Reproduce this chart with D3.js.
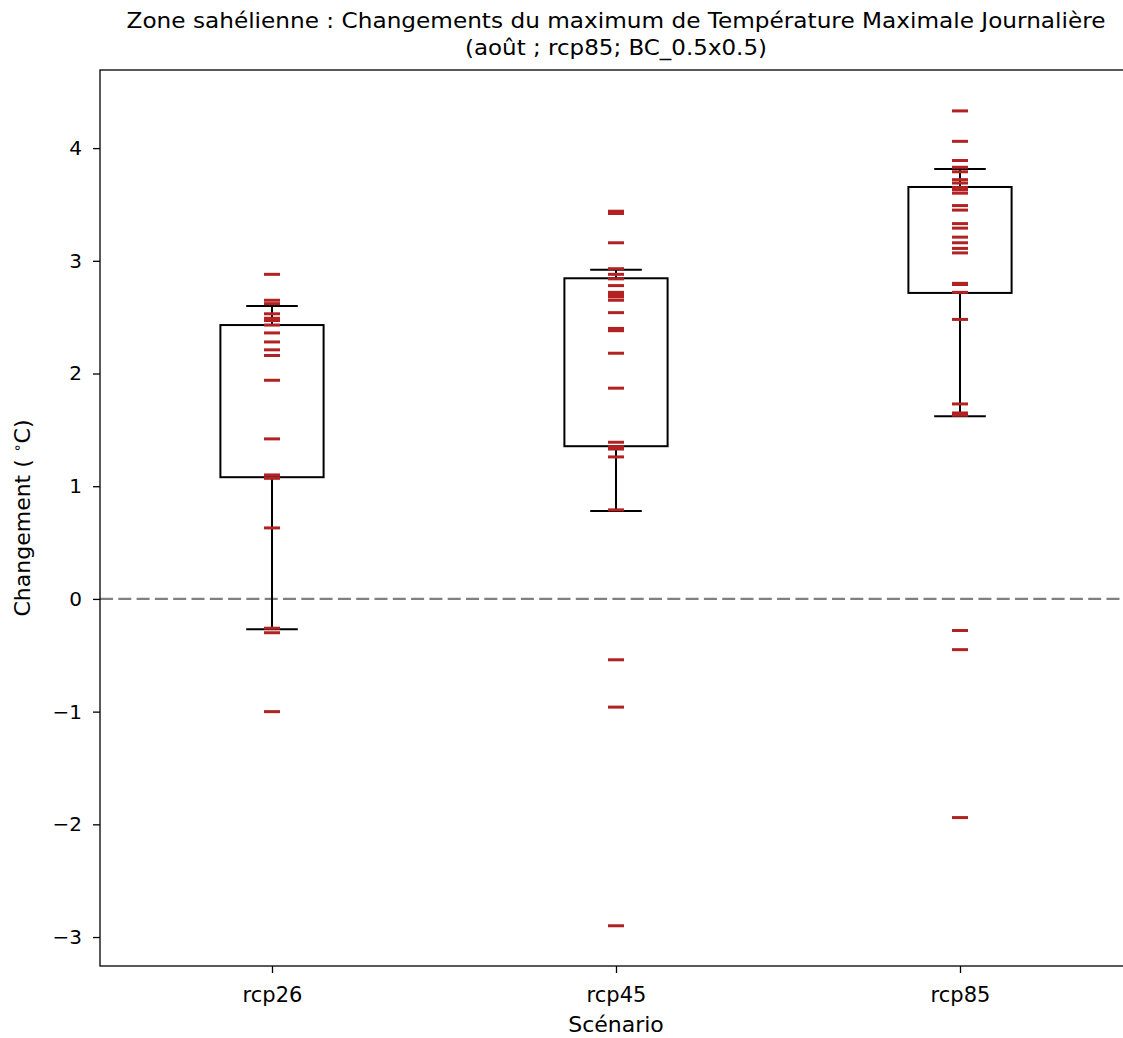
<!DOCTYPE html>
<html>
<head>
<meta charset="utf-8">
<script src="https://cdn.jsdelivr.net/npm/d3@7"></script>
<style>
  body { margin: 0; background: #fff; }
  svg { display: block; }
  text { font-family: "DejaVu Sans", sans-serif; fill: #000; }
</style>
</head>
<body>
<svg id="chart" width="1123" height="1038"></svg>
<script>
const categories = ["rcp26", "rcp45", "rcp85"];
const yTicks = [-3, -2, -1, 0, 1, 2, 3, 4];

// individual model values (red dashes)
const rcp26Values = [2.88, 2.65, 2.62, 2.53, 2.49, 2.47, 2.43, 2.36, 2.28, 2.21, 2.16, 1.94, 1.42, 1.10, 1.07, 0.63, -0.26, -0.30, -1.00];
const rcp45Values = [3.44, 3.42, 3.16, 2.93, 2.88, 2.84, 2.78, 2.72, 2.70, 2.68, 2.65, 2.54, 2.40, 2.38, 2.18, 1.87, 1.39, 1.35, 1.33, 1.26, 0.79, -0.54, -0.96, -2.90];
const rcp85Values = [4.33, 4.06, 3.89, 3.83, 3.79, 3.72, 3.69, 3.65, 3.63, 3.60, 3.49, 3.45, 3.33, 3.29, 3.21, 3.16, 3.11, 3.07, 2.80, 2.79, 2.72, 2.48, 1.73, 1.65, 1.63, -0.28, -0.45, -1.94];

// box statistics
const whiskerLow = [-0.27, 0.78, 1.62];
const q1 = [1.08, 1.355, 2.715];
const q3 = [2.43, 2.845, 3.655];
const whiskerHigh = [2.60, 2.92, 3.815];

const title1 = "Zone sahélienne : Changements du maximum de Température Maximale Journalière";
const title2 = "(août ; rcp85; BC_0.5x0.5)";
const xLabel = "Scénario";

const seriesValues = [rcp26Values, rcp45Values, rcp85Values];

const svg = d3.select("#chart");
const mLeft = 100, mTop = 70, mBottom = 966, mRight = 1132;

const x = d3.scaleLinear().domain([0.5, 3.5]).range([mLeft, mRight]);
const y = d3.scaleLinear().domain([-3.257, 4.693]).range([mBottom, mTop]);

// zero line
svg.append("line")
  .attr("x1", mLeft).attr("x2", mRight)
  .attr("y1", y(0)).attr("y2", y(0))
  .attr("stroke", "#808080").attr("stroke-width", 2.4)
  .attr("stroke-dasharray", "13,5.3");

const boxW = 0.3, capW = 0.15, dashW = 16;

categories.forEach((c, i) => {
  const cx = x(i + 1);
  const g = svg.append("g");
  g.append("line").attr("x1", cx).attr("x2", cx)
    .attr("y1", y(q1[i])).attr("y2", y(whiskerLow[i]))
    .attr("stroke", "#000").attr("stroke-width", 2);
  g.append("line").attr("x1", cx).attr("x2", cx)
    .attr("y1", y(q3[i])).attr("y2", y(whiskerHigh[i]))
    .attr("stroke", "#000").attr("stroke-width", 2);
  [whiskerLow[i], whiskerHigh[i]].forEach(v => {
    g.append("line")
      .attr("x1", x(i + 1 - capW / 2)).attr("x2", x(i + 1 + capW / 2))
      .attr("y1", y(v)).attr("y2", y(v))
      .attr("stroke", "#000").attr("stroke-width", 2);
  });
  g.append("rect")
    .attr("x", x(i + 1 - boxW / 2)).attr("width", x(i + 1 + boxW / 2) - x(i + 1 - boxW / 2))
    .attr("y", y(q3[i])).attr("height", y(q1[i]) - y(q3[i]))
    .attr("fill", "none").attr("stroke", "#000").attr("stroke-width", 2);
  g.selectAll("line.pt").data(seriesValues[i]).enter().append("line")
    .attr("class", "pt")
    .attr("x1", cx - dashW / 2).attr("x2", cx + dashW / 2)
    .attr("y1", d => y(d)).attr("y2", d => y(d))
    .attr("stroke", "#b22222").attr("stroke-width", 3);
});

// axes
const yAxis = d3.axisLeft(y).tickValues(yTicks).tickSize(7).tickPadding(11).tickFormat(d => d < 0 ? "\u2212" + Math.abs(d) : d);
const gy = svg.append("g").attr("transform", `translate(${mLeft},0)`).call(yAxis);
gy.select(".domain").remove();
gy.selectAll("line").attr("stroke", "#000").attr("stroke-width", 1.3);
gy.selectAll("text").style("font-size", "20px").attr("fill", "#000");

const xAxis = d3.axisBottom(x).tickValues([1, 2, 3]).tickSize(7).tickPadding(14).tickFormat((d, i) => categories[i]);
const gx = svg.append("g").attr("transform", `translate(0,${mBottom})`).call(xAxis);
gx.select(".domain").remove();
gx.selectAll("line").attr("stroke", "#000").attr("stroke-width", 1.3);
gx.selectAll("text").style("font-size", "21px").attr("fill", "#000");

// frame
svg.append("rect").attr("x", mLeft).attr("y", mTop)
  .attr("width", mRight - mLeft).attr("height", mBottom - mTop)
  .attr("fill", "none").attr("stroke", "#000").attr("stroke-width", 1.3);

// titles
svg.append("text").attr("x", 616).attr("y", 28).attr("text-anchor", "middle")
  .attr("textLength", 979).attr("lengthAdjust", "spacingAndGlyphs")
  .style("font-size", "22px").text(title1);
svg.append("text").attr("x", 616).attr("y", 55).attr("text-anchor", "middle")
  .attr("textLength", 302).attr("lengthAdjust", "spacingAndGlyphs")
  .style("font-size", "22px").text(title2);

svg.append("text").attr("x", 616).attr("y", 1032).attr("text-anchor", "middle")
  .style("font-size", "22px").text(xLabel);

const yl = svg.append("text").attr("transform", `translate(30,${(mTop + mBottom) / 2}) rotate(-90)`)
  .attr("text-anchor", "middle").style("font-size", "22px");
yl.append("tspan").text("Changement ( ");
yl.append("tspan").attr("dy", -8).style("font-size", "14px").text("\u2218");
yl.append("tspan").attr("dy", 8).text("C)");
</script>
</body>
</html>
